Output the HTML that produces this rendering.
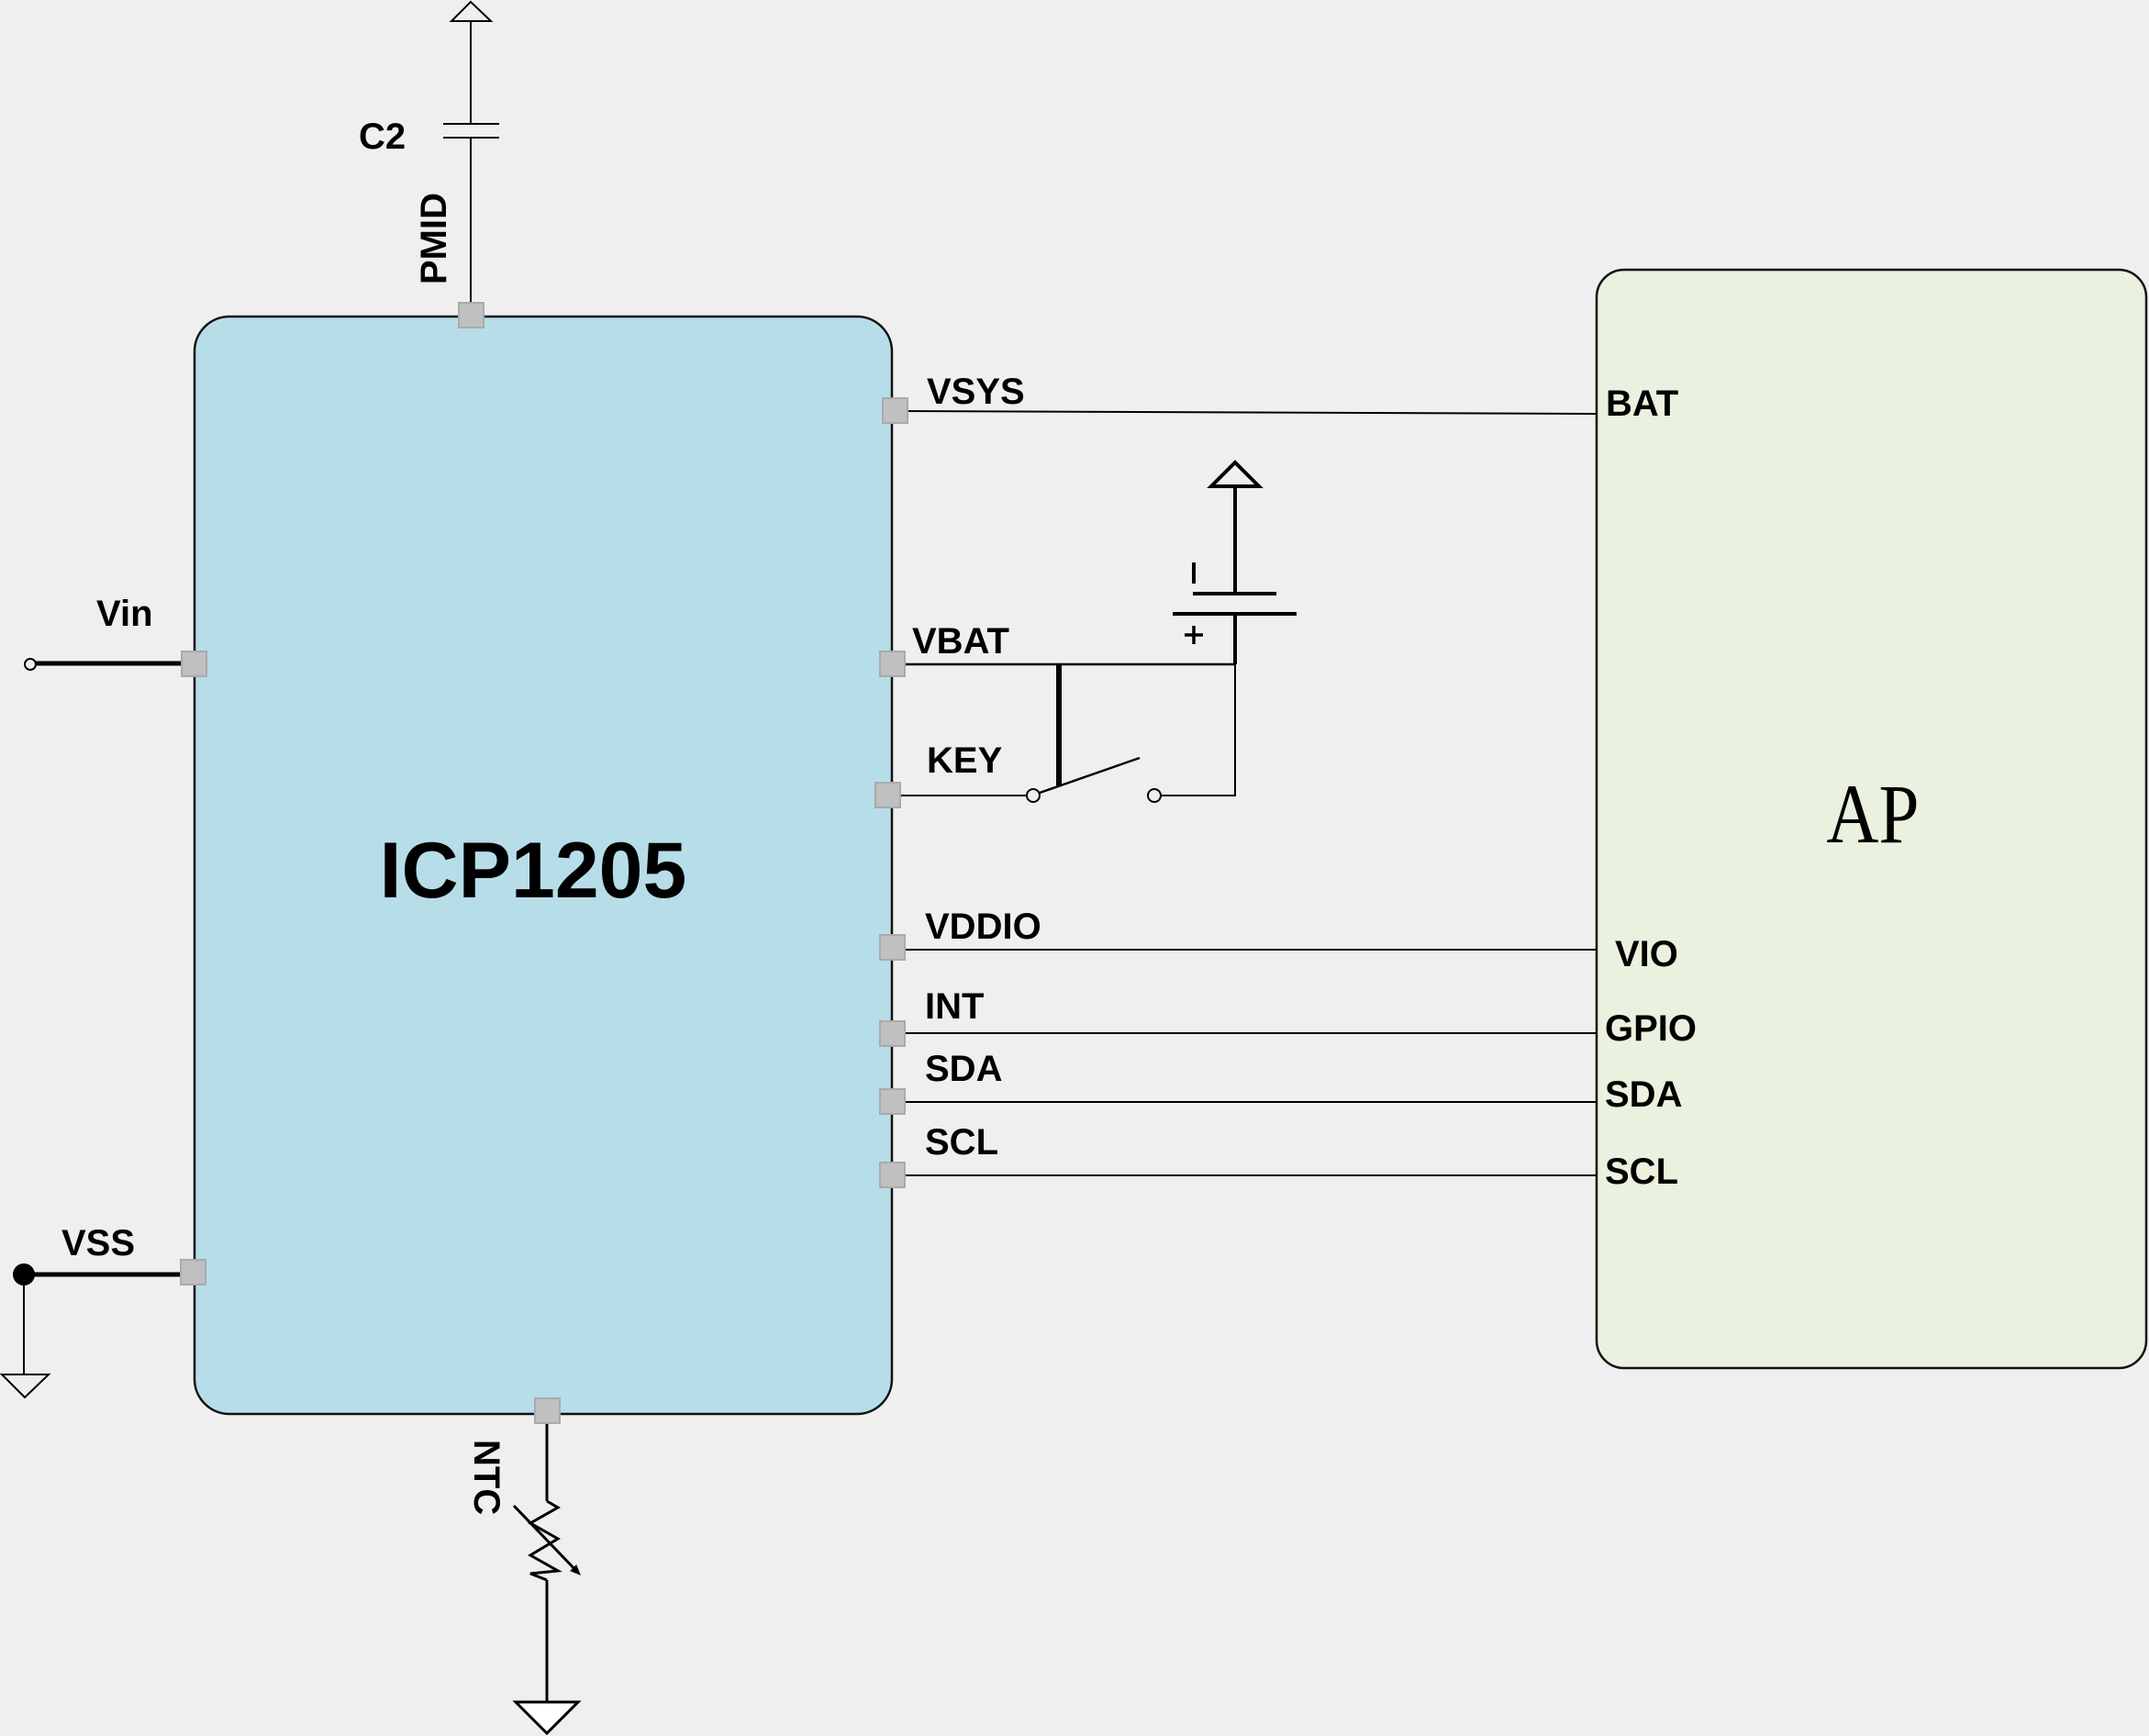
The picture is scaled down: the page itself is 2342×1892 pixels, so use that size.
<!DOCTYPE html>
<html><head><meta charset="utf-8"><style>
html,body{margin:0;padding:0;background:#efefef;}
svg{display:block;}
text{font-family:"Liberation Sans",sans-serif;font-weight:bold;fill:#000;}
</style></head><body>
<svg width="2342" height="1892" viewBox="0 0 2342 1892" xmlns="http://www.w3.org/2000/svg">
<rect width="2342" height="1892" fill="#efefef"/>
<rect x="212" y="345" width="760" height="1196" rx="38" fill="#b7dde8" stroke="#111" stroke-width="2.5"/>
<rect x="1740" y="294" width="599" height="1197" rx="30" fill="#eaf1de" stroke="#111" stroke-width="2.5"/>

<g stroke="#000" fill="none">
<line x1="513" y1="23" x2="513" y2="135" stroke-width="2"/>
<line x1="513" y1="150" x2="513" y2="343" stroke-width="2"/>
<line x1="483" y1="135" x2="544" y2="135" stroke-width="2"/>
<line x1="483" y1="150" x2="544" y2="150" stroke-width="2"/>
<polygon points="492,23 535,23 513,2" stroke-width="2" fill="#efefef"/>
<line x1="38" y1="723" x2="202" y2="723" stroke-width="5"/>
<circle cx="33" cy="724" r="6" stroke-width="2" fill="#efefef"/>
<line x1="26" y1="1389" x2="202" y2="1389" stroke-width="5"/>
<circle cx="26" cy="1389" r="12" fill="#000" stroke="none"/>
<line x1="26" y1="1389" x2="26" y2="1498" stroke-width="2"/>
<polygon points="2,1498 53,1498 27,1523" stroke-width="2" fill="#efefef"/>
<line x1="596" y1="1545" x2="596" y2="1636" stroke-width="3"/>
<polyline points="596,1636 608,1643 578,1660 608,1677 578,1695 608,1712 578,1715 596,1722" stroke-width="3"/>
<line x1="596" y1="1722" x2="596" y2="1855" stroke-width="3"/>
<line x1="560" y1="1641" x2="630" y2="1714" stroke-width="3"/>
<polygon points="632,1716 622,1712 628,1706" fill="#000" stroke-width="1"/>
<polygon points="562,1855 630,1855 596,1889" stroke-width="3" fill="#fff"/>
<line x1="985" y1="448" x2="1740" y2="451" stroke-width="2"/>
<line x1="985" y1="724" x2="1346" y2="724" stroke-width="2.5"/>
<line x1="1346" y1="669" x2="1346" y2="724" stroke-width="4"/>
<line x1="1346" y1="530" x2="1346" y2="647" stroke-width="4"/>
<line x1="1278" y1="669" x2="1413" y2="669" stroke-width="4"/>
<line x1="1300" y1="647" x2="1391" y2="647" stroke-width="4"/>
<polygon points="1320,530 1372,530 1346,504" stroke-width="4" fill="#efefef"/>
<line x1="1301" y1="613" x2="1301" y2="636" stroke-width="4"/>
<line x1="1301" y1="682" x2="1301" y2="702" stroke-width="3.5"/>
<line x1="1291" y1="692" x2="1311" y2="692" stroke-width="3.5"/>
<line x1="1154" y1="724" x2="1154" y2="857" stroke-width="6"/>
<line x1="980" y1="867" x2="1119" y2="867" stroke-width="2"/>
<circle cx="1126" cy="867" r="7" stroke-width="2"/>
<line x1="1133" y1="864" x2="1242" y2="826" stroke-width="2.5"/>
<circle cx="1258" cy="867" r="7" stroke-width="2"/>
<polyline points="1265,867 1346,867 1346,724" stroke-width="2"/>
<line x1="985" y1="1035" x2="1740" y2="1035" stroke-width="2"/>
<line x1="985" y1="1126" x2="1740" y2="1126" stroke-width="2"/>
<line x1="985" y1="1201" x2="1740" y2="1201" stroke-width="2"/>
<line x1="985" y1="1281" x2="1740" y2="1281" stroke-width="2"/>
</g>

<g fill="#c0c0c0" stroke="#aaa" stroke-width="2">
<rect x="500" y="330" width="27" height="27"/>
<rect x="198" y="710" width="27" height="27"/>
<rect x="197" y="1373" width="27" height="27"/>
<rect x="583" y="1524" width="27" height="27"/>
<rect x="962" y="434" width="27" height="27"/>
<rect x="959" y="710" width="27" height="27"/>
<rect x="954" y="853" width="27" height="27"/>
<rect x="959" y="1019" width="27" height="27"/>
<rect x="959" y="1113" width="27" height="27"/>
<rect x="959" y="1187" width="27" height="27"/>
<rect x="959" y="1267" width="27" height="27"/>
</g>

<g font-size="40">
<text x="391" y="162">C2</text>
<text x="0" y="0" transform="translate(486,310) rotate(-90)">PMID</text>
<text x="105" y="682">Vin</text>
<text x="67" y="1368">VSS</text>
<text x="0" y="0" transform="translate(517,1569) rotate(90)">NTC</text>
<text x="1010" y="440">VSYS</text>
<text x="994" y="712">VBAT</text>
<text x="1010" y="842">KEY</text>
<text x="1008" y="1023">VDDIO</text>
<text x="1008" y="1110">INT</text>
<text x="1008" y="1178">SDA</text>
<text x="1008" y="1258">SCL</text>
<text x="1750" y="453">BAT</text>
<text x="1760" y="1053">VIO</text>
<text x="1749" y="1134">GPIO</text>
<text x="1749" y="1206">SDA</text>
<text x="1749" y="1290">SCL</text>
</g>
<text x="581" y="978" font-size="86" text-anchor="middle">ICP1205</text>
<text x="0" y="0" transform="translate(2041,918) scale(0.86,1)" font-size="92" text-anchor="middle" style="font-family:'Liberation Serif',serif;font-weight:normal">AP</text>
</svg>
</body></html>
